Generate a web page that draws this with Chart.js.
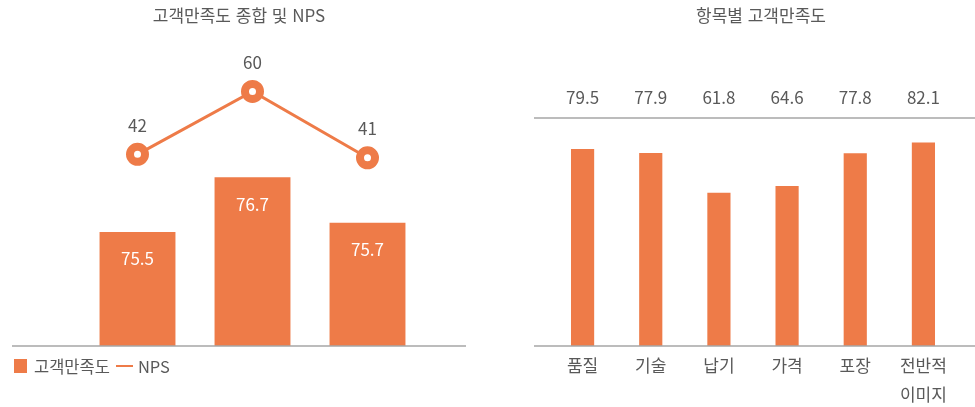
<!DOCTYPE html>
<html lang="ko">
<head>
<meta charset="utf-8">
<script src="https://cdn.jsdelivr.net/npm/chart.js@4"></script>
<style>
  body { margin: 0; background: #fff; font-family: "Noto Sans CJK KR", "Noto Sans", sans-serif; color: #595959; }
  #wrap { position: relative; width: 975px; height: 407px; overflow: hidden; }
  canvas { position: absolute; top: 0; }
  .title { position: absolute; top: 3px; font-size: 17px; line-height: 24px; white-space: nowrap; transform: translateX(-50%); }
  #legend { position: absolute; left: 14px; top: 354px; display: flex; align-items: center; font-size: 16.5px; line-height: 24px; }
  #legend .box { width: 13px; height: 14px; background: #EE7B48; margin-right: 7px; }
  #legend .ln { width: 17px; height: 2.5px; background: #EE7B48; margin: 0 5px 0 6px; }
</style>
</head>
<body>
<div id="wrap">
  <canvas id="totalChart" width="480" height="407" style="left:0"></canvas>
  <canvas id="itemChart" width="495" height="407" style="left:480px"></canvas>
  <div class="title" style="left:239px">고객만족도 종합 및 NPS</div>
  <div class="title" style="left:761px">항목별 고객만족도</div>
  <div id="legend"><span class="box"></span><span>고객만족도</span><span class="ln"></span><span>NPS</span></div>
</div>
<script>
// left chart: overall satisfaction + NPS
const periods = ['기간1', '기간2', '기간3'];
const satisfaction = [75.5, 76.7, 75.7];
const nps = [42, 60, 41];

// right chart: satisfaction by item
const items = ['품질', '기술', '납기', '가격', '포장', ['전반적', '이미지']];
const itemScores = [79.5, 77.9, 61.8, 64.6, 77.8, 82.1];

const orange = '#EE7B48';
const textGray = '#595959';
const lineGray = '#a6a6a6';
const fontFamily = '"Noto Sans CJK KR", "Noto Sans", sans-serif';

Chart.defaults.font.family = fontFamily;
Chart.defaults.color = textGray;

function hLine(ctx, x1, x2, y) {
    ctx.save();
    ctx.strokeStyle = lineGray;
    ctx.lineWidth = 1.5;
    ctx.beginPath();
    ctx.moveTo(x1, y);
    ctx.lineTo(x2, y);
    ctx.stroke();
    ctx.restore();
}

// baseline + value labels for the left chart
const totalLabels = {
    id: 'totalLabels',
    afterDatasetsDraw(chart) {
        const ctx = chart.ctx;
        hLine(ctx, 12, 466, chart.chartArea.bottom);
        ctx.save();
        ctx.font = '17px ' + fontFamily;
        ctx.textAlign = 'center';
        ctx.textBaseline = 'middle';
        // dataset 1 = bars, dataset 0 = NPS line
        chart.getDatasetMeta(1).data.forEach((bar, i) => {
            ctx.fillStyle = '#fff';
            ctx.fillText(satisfaction[i].toFixed(1), bar.x, bar.y + 27);
        });
        chart.getDatasetMeta(0).data.forEach((pt, i) => {
            ctx.fillStyle = textGray;
            ctx.fillText(String(nps[i]), pt.x, pt.y - 29);
        });
        ctx.restore();
    }
};

new Chart(document.getElementById('totalChart'), {
    data: {
        labels: periods,
        datasets: [{
            type: 'line',
            label: 'NPS',
            data: nps,
            yAxisID: 'y2',
            borderColor: orange,
            borderWidth: 3,
            pointRadius: 7.5,
            pointBorderWidth: 8,
            pointBackgroundColor: '#fff',
            pointBorderColor: orange,
            order: 1
        }, {
            type: 'bar',
            label: '고객만족도',
            data: satisfaction,
            yAxisID: 'y',
            backgroundColor: orange,
            barPercentage: 0.66,
            categoryPercentage: 1,
            order: 2
        }]
    },
    options: {
        responsive: false,
        animation: false,
        layout: { padding: { left: 80, right: 55, top: 66, bottom: 61 } },
        plugins: { legend: { display: false }, tooltip: { enabled: false } },
        scales: {
            x: { display: false },
            y: { display: false, min: 73, max: 79.14 },
            y2: { display: false, position: 'right', min: -12.9, max: 67.3 }
        }
    },
    plugins: [totalLabels]
});

// top/bottom rules + value labels for the right chart
const itemLabels = {
    id: 'itemLabels',
    afterDatasetsDraw(chart) {
        const ctx = chart.ctx;
        const area = chart.chartArea;
        hLine(ctx, 54, chart.width, area.top);
        hLine(ctx, 54, chart.width, area.bottom);
        ctx.save();
        ctx.font = '17px ' + fontFamily;
        ctx.fillStyle = textGray;
        ctx.textAlign = 'center';
        ctx.textBaseline = 'middle';
        chart.getDatasetMeta(0).data.forEach((bar, i) => {
            ctx.fillText(itemScores[i].toFixed(1), bar.x, area.top - 20);
        });
        ctx.restore();
    }
};

new Chart(document.getElementById('itemChart'), {
    type: 'bar',
    data: {
        labels: items,
        datasets: [{
            label: '항목별 고객만족도',
            data: itemScores,
            backgroundColor: orange,
            barPercentage: 0.34,
            categoryPercentage: 1
        }]
    },
    options: {
        responsive: false,
        animation: false,
        layout: { padding: { left: 68.5, right: 17.5, top: 118, bottom: 0 } },
        plugins: { legend: { display: false }, tooltip: { enabled: false } },
        scales: {
            x: {
                grid: { display: false, drawTicks: false },
                border: { display: false },
                ticks: { font: { size: 17, lineHeight: 1.65 }, color: textGray, padding: 6, maxRotation: 0 },
                afterFit(scale) { scale.height = 61; }
            },
            y: { display: false, min: 0, max: 92 }
        }
    },
    plugins: [itemLabels]
});
</script>
</body>
</html>
